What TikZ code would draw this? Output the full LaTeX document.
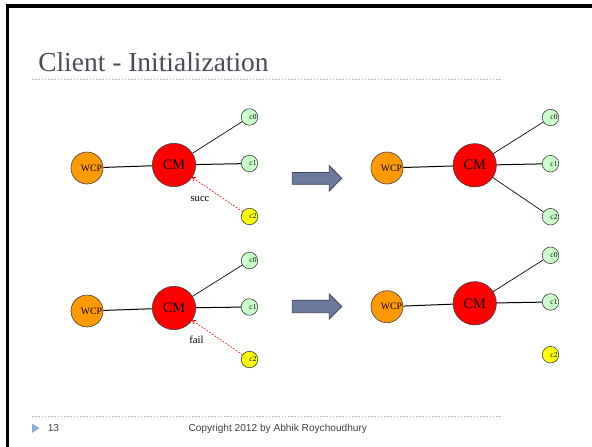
\documentclass[tikz,border=0pt]{standalone}
\usepackage{fontspec}
\setmainfont{Liberation Serif}
\newfontfamily\footfont{Liberation Sans}
\usetikzlibrary{arrows.meta}

\definecolor{titlegray}{HTML}{4A4A58}
\definecolor{rulecol}{HTML}{A9C1D9}
\definecolor{bullet}{HTML}{8EAFD0}
\definecolor{wcpfill}{HTML}{FF9900}
\definecolor{clientfill}{HTML}{CCFFCC}
\definecolor{pendfill}{HTML}{FFFF00}
\definecolor{blockfill}{HTML}{6B799F}
\definecolor{blockedge}{HTML}{3F4256}

\tikzset{
  node base/.style={circle, draw=black!75, line width=0.45pt, inner sep=0pt},
  wcpnode/.style={node base, fill=wcpfill, minimum size=24pt,
    path picture={\node[font=\fontsize{7.3}{8}\selectfont] at ([xshift=3.4pt]path picture bounding box.center) {WCP};}},
  cmnode/.style={node base, fill=red, minimum size=32.5pt,
    font=\fontsize{10.8}{11}\selectfont},
  client/.style={node base, fill=clientfill, minimum size=12.4pt,
    path picture={\node[font=\fontsize{5.6}{6}\selectfont] at ([xshift=2.6pt]path picture bounding box.center) {#1};}},
  pending/.style={client=#1, fill=pendfill},
  link/.style={draw=black, line width=0.75pt},
  request/.style={draw=red, dashed, dash pattern=on 1.3pt off 1.1pt, line width=0.45pt,
    -{To[length=2.6pt,width=3.4pt]}},
  reply/.style={font=\fontsize{8}{9}\selectfont},
  blockarrow/.style={fill=blockfill, draw=blockedge, line width=0.6pt, line join=miter},
  dotrule/.style={draw=rulecol, line width=0.6pt, dash pattern=on 1.2pt off 1.2pt},
}

\begin{document}
\begin{tikzpicture}[x=0.75pt, y=-0.75pt]
  \useasboundingbox (0,0) rectangle (592,446);
  \fill[white] (0,0) rectangle (592,446);

  % slide frame (top and left edge)
  \draw[line width=2.3pt, line cap=rect] (7.5,446) -- (7.5,6) -- (592,6);

  % title and rules
  \node[anchor=base west, inner sep=0pt, text=titlegray,
        font=\fontsize{20.6}{24}\selectfont] (title) at (38,71.7) {Client - Initialization};
  \draw[dotrule] (32,79.3) -- (502,79.3);
  \draw[dotrule] (32,416) -- (502,416);

  % footer
  \fill[bullet] (32,423.6) -- (39.6,428.2) -- (32,432.8) -- cycle;
  \node[anchor=base west, inner sep=0pt, font=\footfont\fontsize{7.6}{9}\selectfont,
        text=black!75] (pageno) at (47.5,431) {13};
  \node[anchor=base, inner sep=0pt, font=\footfont\fontsize{7.6}{9}\selectfont,
        text=black!75] (copy) at (277.8,431) {Copyright 2012 by Abhik Roychoudhury};

  % ---- top left: c2 asks CM, success
  \node[wcpnode] (wA) at (87,168) {};
  \node[cmnode] (mA) at (174,165) {CM};
  \node[client=c0] (aA) at (249.5,117) {};
  \node[client=c1] (bA) at (249.5,163.5) {};
  \node[pending=c2] (cA) at (249.5,216.5) {};
  \draw[link] (wA) -- (mA);
  \draw[link, line width=0.5pt] (mA) -- (aA);
  \draw[link] (mA) -- (bA);
  \draw[request] (cA) -- (mA);
  \node[reply] (sA) at (200,199) {succ};

  % ---- bottom left: c2 asks CM, failure
  \node[wcpnode] (wB) at (87,311) {};
  \node[cmnode] (mB) at (174,308) {CM};
  \node[client=c0] (aB) at (249.5,260.5) {};
  \node[client=c1] (bB) at (249.5,307) {};
  \node[pending=c2] (cB) at (249.5,359.5) {};
  \draw[link] (wB) -- (mB);
  \draw[link, line width=0.5pt] (mB) -- (aB);
  \draw[link] (mB) -- (bB);
  \draw[request] (cB) -- (mB);
  \node[reply] (sB) at (196.5,340) {fail};

  % ---- transition arrows
  \draw[blockarrow] (292.3,172.5) -- (329.3,172.5) -- (329.3,165.7) -- (341.7,178.3)
        -- (329.3,191) -- (329.3,184.3) -- (292.3,184.3) -- cycle;
  \draw[blockarrow] (292.3,300.2) -- (329.3,300.2) -- (329.3,294) -- (341.7,306.5)
        -- (329.3,319) -- (329.3,312.7) -- (292.3,312.7) -- cycle;

  % ---- top right: c2 joined
  \node[wcpnode] (wC) at (387,168) {};
  \node[cmnode] (mC) at (474.7,165.3) {CM};
  \node[client=c0] (aC) at (550.5,117.5) {};
  \node[client=c1] (bC) at (550.5,163.7) {};
  \node[client=c2] (cC) at (550.5,216.7) {};
  \draw[link] (wC) -- (mC);
  \draw[link, line width=0.5pt] (mC) -- (aC);
  \draw[link] (mC) -- (bC);
  \draw[link, line width=0.5pt] (mC) -- (cC);

  % ---- bottom right: c2 left out
  \node[wcpnode] (wD) at (387,306.7) {};
  \node[cmnode] (mD) at (474.7,303.3) {CM};
  \node[client=c0] (aD) at (550.5,255.3) {};
  \node[client=c1] (bD) at (550.5,302) {};
  \node[pending=c2] (cD) at (550.5,354.7) {};
  \draw[link] (wD) -- (mD);
  \draw[link, line width=0.5pt] (mD) -- (aD);
  \draw[link] (mD) -- (bD);
\end{tikzpicture}
\end{document}
